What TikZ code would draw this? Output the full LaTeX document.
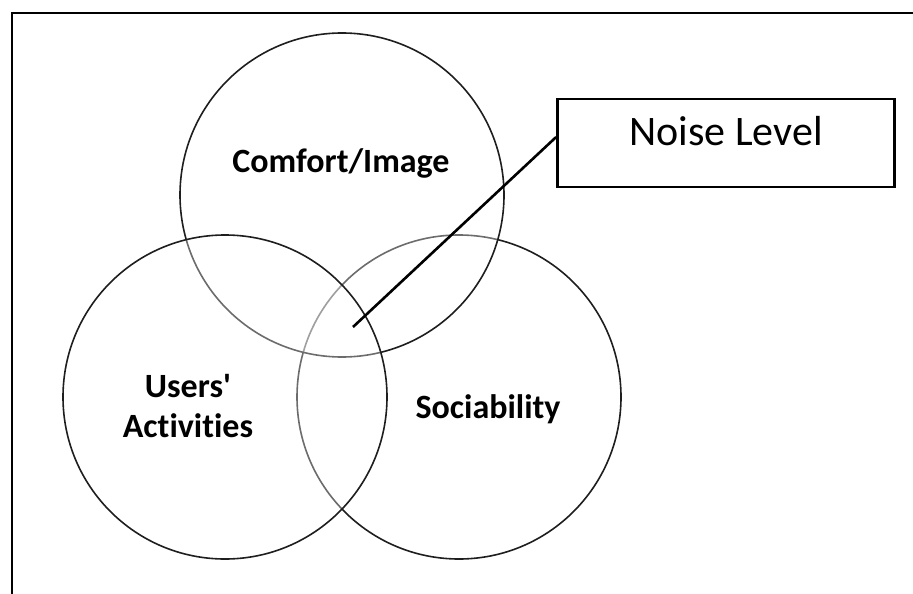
\documentclass[tikz,border=0pt]{standalone}
\usepackage{fontspec}
\setmainfont{Carlito}[Ligatures={NoCommon}]
\usepackage{xcolor}
\usetikzlibrary{positioning,calc}
\definecolor{ringgray}{RGB}{30,30,30}
\tikzset{
  venn-circle/.style={circle, draw=ringgray, line width=1.6pt, fill=white,
    fill opacity=0.35, minimum size=324pt, inner sep=0pt},
  venn-label/.style={font=\fontsize{34}{40}\selectfont\bfseries, align=center,
    anchor=base, inner sep=0pt},
  noise-box/.style={draw=black, line width=2.8pt, minimum width=337pt,
    text height=46pt, text depth=42pt, inner sep=0pt,
    font=\fontsize{42}{48}\selectfont},
  frame-line/.style={draw=black, line width=1.6pt},
  pointer-line/.style={draw=black, line width=2.6pt}
}
\begin{document}
\begin{tikzpicture}[x=1pt, y=-1pt]
\useasboundingbox (0,0) rectangle (913,594);

% Partial frame
\draw[frame-line] (12,594) -- (12,13) -- (913,13);

% Three circles
\node[venn-circle] (sociability) at (459,397) {};
\node[venn-circle] (comfort) at (342,195) {};
\node[venn-circle] (activities) at (225,397) {};

% Circle labels
\node[venn-label] (comfort-text) at (341,172) {Comfort/Image};
\node[venn-label] (activities-text) at (188,437) {Users\textquotesingle\\Activities};
\node[venn-label] (sociability-text) at (488,418) {Sociability};

% Noise box and its pointer
\node[noise-box] (noise) at (726,143) {Noise Level};
\coordinate (hub) at (353,327);
\draw[pointer-line] (noise.178) -- (hub);
\end{tikzpicture}
\end{document}
